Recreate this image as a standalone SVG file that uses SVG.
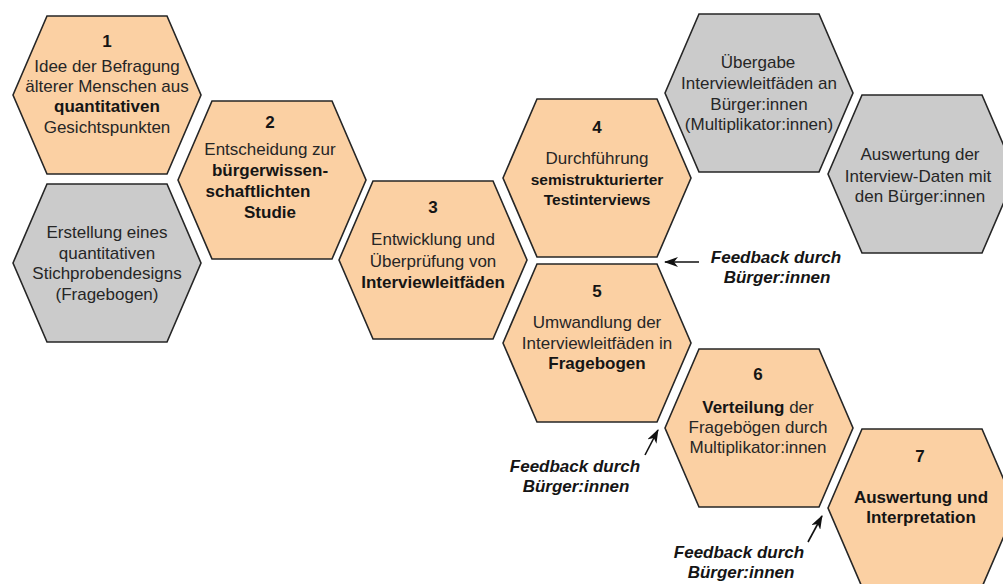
<svg xmlns="http://www.w3.org/2000/svg" xmlns:xlink="http://www.w3.org/1999/xlink" width="1003" height="584" viewBox="0 0 1003 584">
<style>
.o{fill:#FBD0A3;stroke:#262626;stroke-width:1.6;stroke-linejoin:miter}
.g{fill:#CBCBCB;stroke:#262626;stroke-width:1.6;stroke-linejoin:miter}
text{font-family:"Liberation Sans",Arial,sans-serif;font-size:17px;fill:#262626;text-anchor:middle}
.b{font-weight:bold;fill:#151515}
.fb{font-weight:bold;font-style:italic;font-size:17px;fill:#151515}
.ar{stroke:#111;stroke-width:1.6;fill:none}
</style>
<defs>
<path id="hex" d="M-94,0 L-60,-79 L60,-79 L94,0 L60,79 L-60,79 Z"/>
<marker id="ah" markerWidth="14" markerHeight="10" refX="13" refY="5" orient="auto" markerUnits="userSpaceOnUse">
<path d="M0,0 L14,5 L0,10 L4,5 Z" fill="#111"/>
</marker>
</defs>
<rect width="1003" height="584" fill="#fff"/>

<g id="node1">
<use xlink:href="#hex" href="#hex" class="o" x="107" y="95"/>
<text x="107" y="47" class="b">1</text>
<text x="107" y="72">Idee der Befragung</text>
<text x="107" y="92">älterer Menschen aus</text>
<text x="107" y="112" class="b">quantitativen</text>
<text x="107" y="133">Gesichtspunkten</text>
</g>

<g id="nodeStichprobe">
<use xlink:href="#hex" href="#hex" class="g" x="107" y="263"/>
<text x="107" y="238">Erstellung eines</text>
<text x="107" y="259">quantitativen</text>
<text x="107" y="279">Stichprobendesigns</text>
<text x="107" y="300">(Fragebogen)</text>
</g>

<g id="node2">
<use xlink:href="#hex" href="#hex" class="o" x="272" y="180"/>
<text x="270" y="128" class="b">2</text>
<text x="270" y="155">Entscheidung zur</text>
<text x="270" y="176" class="b">bürgerwissen-</text>
<text x="258" y="197" class="b">schaftlichten</text>
<text x="270" y="218" class="b">Studie</text>
</g>

<g id="node3">
<use xlink:href="#hex" href="#hex" class="o" x="433" y="260"/>
<text x="433" y="213" class="b">3</text>
<text x="433" y="245">Entwicklung und</text>
<text x="433" y="267">Überprüfung von</text>
<text x="433" y="288" class="b">Interviewleitfäden</text>
</g>

<g id="node4">
<use xlink:href="#hex" href="#hex" class="o" x="597" y="178"/>
<text x="597" y="133" class="b">4</text>
<text x="597" y="164">Durchführung</text>
<text x="597" y="185" class="b" style="font-size:15.5px">semistrukturierter</text>
<text x="597" y="205" class="b" style="font-size:15.5px">Testinterviews</text>
</g>

<g id="node5">
<use xlink:href="#hex" href="#hex" class="o" x="597" y="343"/>
<text x="597" y="297" class="b">5</text>
<text x="597" y="328">Umwandlung der</text>
<text x="597" y="349">Interviewleitfäden in</text>
<text x="597" y="369" class="b">Fragebogen</text>
</g>

<g id="nodeUebergabe">
<use xlink:href="#hex" href="#hex" class="g" x="759" y="93"/>
<text x="758" y="68">Übergabe</text>
<text x="759" y="89">Interviewleitfäden an</text>
<text x="759" y="110">Bürger:innen</text>
<text x="759" y="130">(Multiplikator:innen)</text>
</g>

<g id="nodeAuswertungDaten">
<use xlink:href="#hex" href="#hex" class="g" x="922" y="174"/>
<text x="920" y="160">Auswertung der</text>
<text x="918" y="182">Interview-Daten mit</text>
<text x="920" y="202">den Bürger:innen</text>
</g>

<g id="node6">
<use xlink:href="#hex" href="#hex" class="o" x="759" y="428"/>
<text x="758" y="380" class="b">6</text>
<text x="758" y="413"><tspan class="b">Verteilung</tspan> der</text>
<text x="758" y="433">Fragebögen durch</text>
<text x="758" y="453">Multiplikator:innen</text>
</g>

<g id="node7">
<use xlink:href="#hex" href="#hex" class="o" x="922" y="508"/>
<text x="920" y="462" class="b">7</text>
<text x="921" y="503" class="b">Auswertung und</text>
<text x="921" y="523" class="b">Interpretation</text>
</g>

<g id="connectors">
<line class="ar" x1="699" y1="262" x2="665" y2="262" marker-end="url(#ah)"/>
<line class="ar" x1="645" y1="455" x2="658" y2="430" marker-end="url(#ah)"/>
<line class="ar" x1="808" y1="542" x2="822" y2="516" marker-end="url(#ah)"/>
</g>

<g id="labels">
<text x="776" y="263" class="fb">Feedback durch</text>
<text x="777" y="283" class="fb">Bürger:innen</text>
<text x="575" y="472" class="fb">Feedback durch</text>
<text x="576" y="492" class="fb">Bürger:innen</text>
<text x="739" y="558" class="fb">Feedback durch</text>
<text x="741" y="578" class="fb">Bürger:innen</text>
</g>
</svg>
